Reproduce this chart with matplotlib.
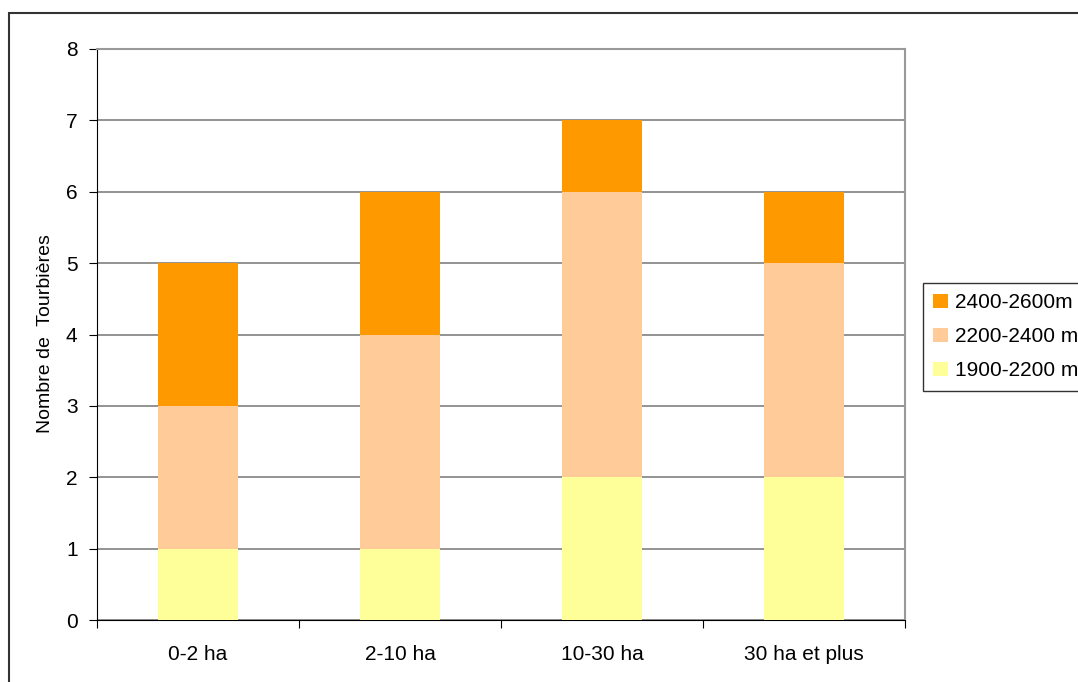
import numpy as np
import matplotlib.pyplot as plt
from matplotlib.patches import Rectangle

plt.rcParams['font.family'] = ['Liberation Sans', 'DejaVu Sans']

categories = ['0-2 ha', '2-10 ha', '10-30 ha', '30 ha et plus']
s_1900_2200 = [1, 1, 2, 2]
s_2200_2400 = [2, 3, 4, 3]
s_2400_2600 = [2, 2, 1, 1]
series_labels = ['1900-2200 m', '2200-2400 m', '2400-2600m']
colors = ['#FFFF99', '#FFCC99', '#FF9900']

fig = plt.figure(figsize=(10.78, 6.82), dpi=100)
ax = fig.add_axes([97/1078, 62/682, 808/1078, 571/682])

x = np.arange(len(categories))
bottom = np.zeros(len(categories))
handles = []
for vals, lab, col in zip([s_1900_2200, s_2200_2400, s_2400_2600], series_labels, colors):
    b = ax.bar(x, vals, width=0.4, bottom=bottom, color=col, label=lab, zorder=3)
    handles.append(b)
    bottom += np.array(vals)

ax.set_xlim(-0.5, len(categories) - 0.5)
ax.set_ylim(0, 8)
ax.set_yticks(range(0, 9))
ax.yaxis.grid(True, color='#808080', linewidth=1.2, zorder=0)

# category ticks sit between the bars
ax.set_xticks(np.arange(-0.5, len(categories)), minor=False)
ax.set_xticklabels([])
ax.set_xticks(x, minor=True)
ax.set_xticklabels(categories, minor=True)
ax.tick_params(axis='x', which='major', direction='out', length=6, color='black')
ax.tick_params(axis='x', which='minor', length=0, pad=18, labelsize=15)
ax.tick_params(axis='y', direction='out', length=6, labelsize=15, pad=8)

for side in ['top', 'right']:
    ax.spines[side].set_color('#999999')
    ax.spines[side].set_linewidth(1.5)
ax.spines['left'].set_color('black')
ax.spines['bottom'].set_color('black')

fig.text(46/1078, 1 - 334/682, 'Nombre de  Tourbières', rotation=90,
         ha='center', va='center', fontsize=14)

leg = fig.legend(handles[::-1], series_labels[::-1], loc='upper left',
                 bbox_to_anchor=(923/1078, 1 - 283/682), fontsize=15,
                 frameon=True, fancybox=False, edgecolor='black',
                 handlelength=0.7, handleheight=0.7, handletextpad=0.35,
                 labelspacing=0.72, borderpad=0.5, borderaxespad=0)
leg.get_frame().set_linewidth(1.0)

# outer chart frame, cut off at right and bottom
fig.patches.append(Rectangle((9/1078, -0.1), 1.2, 1 - 13/682 + 0.1,
                             transform=fig.transFigure, fill=False,
                             edgecolor='#333333', linewidth=1.5))

fig.savefig('out.png', dpi=100)
